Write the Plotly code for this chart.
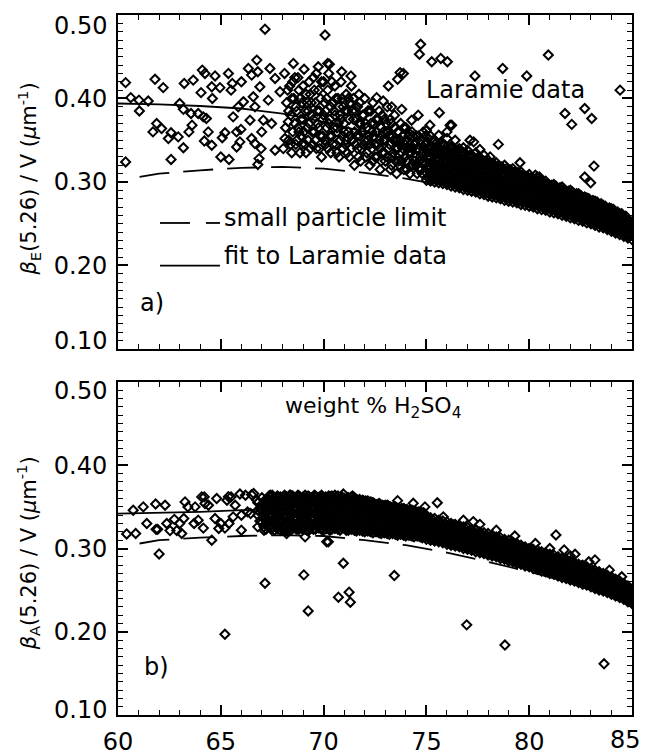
import plotly.graph_objects as go

# ---------------- Panel a) extinction, Laramie data ----------------
a_left = [(60.37,0.419),(60.37,0.324),(60.62,0.401),(61.02,0.398),(61.47,0.397),(61.04,0.385),(61.8,0.423),
(62.2,0.413),(61.88,0.370),(61.7,0.360),(62.12,0.364),(62.58,0.359),(62.45,0.352),(62.93,0.354),(62.58,0.327),
(63.0,0.394),(63.18,0.387),(63.18,0.341),(63.22,0.418),(63.66,0.422),(63.45,0.360),(63.6,0.368),(63.55,0.382),
(63.9,0.382),(64.15,0.378),(64.3,0.376),(64.04,0.407),(64.1,0.434),(64.23,0.430),(64.72,0.427),(64.59,0.400),
(64.56,0.414),(64.96,0.413),(64.39,0.360),(64.2,0.349),(64.56,0.344),(65.0,0.330),(65.07,0.353),(65.2,0.359),
(65.37,0.430),(65.56,0.418),(65.5,0.410),(65.4,0.327),(66.0,0.420),(65.6,0.378),(65.85,0.390),(66.1,0.396),
(65.77,0.360),(65.98,0.363),(65.77,0.342),(65.93,0.348),(66.34,0.436),(66.5,0.428),(66.8,0.432),(66.75,0.446),
(66.42,0.374),(66.66,0.390),(66.58,0.402),(66.9,0.414),(66.5,0.352),(66.66,0.346),(66.96,0.340),(66.86,0.328),
(66.8,0.321),(66.99,0.360),(67.07,0.374),(67.31,0.398),(67.39,0.436),(67.64,0.424),(67.47,0.370),(67.64,0.338),
(67.88,0.408),(68.12,0.352),(68.04,0.340),(68.28,0.372),(67.15,0.483)]

a_core = [(68.1,0.43),(68.2,0.395),(68.3,0.35),(68.35,0.415),(68.4,0.38),(68.45,0.335),(68.5,0.36),(68.55,0.40),
(68.6,0.425),(68.65,0.345),(68.7,0.385),(68.75,0.365),(68.8,0.41),(68.85,0.335),(68.9,0.355),(68.95,0.395),
(69.0,0.375),(69.05,0.435),(69.1,0.345),(69.15,0.405),(69.2,0.365),(69.25,0.385),(69.3,0.42),(69.35,0.34),
(69.4,0.395),(69.45,0.36),(69.5,0.375),(69.55,0.41),(69.6,0.35),(69.65,0.43),(69.7,0.385),(69.75,0.365),
(69.8,0.34),(69.85,0.40),(69.9,0.42),(69.95,0.355),(70.0,0.38),(70.05,0.395),(70.1,0.345),(70.15,0.365),
(70.2,0.41),(70.25,0.43),(70.3,0.375),(70.35,0.335),(70.4,0.355),(70.45,0.395),(70.5,0.385),(70.55,0.415),
(70.6,0.345),(70.65,0.365),(70.7,0.40),(70.75,0.33),(70.8,0.38),(70.85,0.42),(70.9,0.355),(70.95,0.39),
(71.0,0.37),(71.05,0.345),(71.1,0.405),(71.15,0.385),(71.2,0.36),(71.25,0.33),(71.3,0.395),(71.35,0.415),
(71.4,0.35),(71.45,0.375)]

a_core2 = [(68.15,0.365),(68.25,0.41),(68.3,0.385),(68.4,0.345),(68.45,0.40),(68.5,0.42),(68.6,0.37),(68.65,0.39),
(68.7,0.35),(68.75,0.425),(68.8,0.36),(68.85,0.40),(68.9,0.375),(68.95,0.345),(69.0,0.415),(69.05,0.36),
(69.1,0.385),(69.15,0.335),(69.2,0.395),(69.25,0.35),(69.3,0.37),(69.35,0.405),(69.4,0.38),(69.45,0.345),
(69.5,0.425),(69.55,0.36),(69.6,0.395),(69.65,0.34),(69.7,0.37),(69.75,0.41),(69.8,0.385),(69.85,0.355),
(69.9,0.33),(69.95,0.375),(70.0,0.42),(70.05,0.35),(70.1,0.385),(70.15,0.40),(70.2,0.34),(70.25,0.37),
(70.3,0.355),(70.35,0.39),(70.4,0.42),(70.45,0.345),(70.5,0.365),(70.55,0.38),(70.6,0.40),(70.65,0.335),
(70.7,0.37),(70.75,0.39),(70.8,0.35),(70.85,0.375),(70.9,0.40),(70.95,0.34),(71.0,0.36),(71.05,0.385),
(71.1,0.35),(71.15,0.335),(71.2,0.40),(71.25,0.375),(71.3,0.355),(71.35,0.34),(71.4,0.385),(71.45,0.40),
(71.5,0.36),(71.55,0.345),(71.6,0.375),(71.65,0.39),(71.7,0.33),(71.75,0.355),(71.8,0.37),(71.85,0.34),
(71.9,0.36),(71.95,0.38),(72.0,0.35),(72.05,0.37),(72.1,0.335),(72.15,0.385),(72.2,0.355),(72.25,0.345),
(72.3,0.385),(72.35,0.36),(72.4,0.325),(72.45,0.37),(72.5,0.345),(72.55,0.36),(72.6,0.33),(72.65,0.375),
(72.7,0.35),(72.75,0.34),(72.8,0.325),(72.85,0.38),(72.9,0.36),(72.95,0.335),(73.0,0.35),(73.05,0.37),
(73.1,0.33),(73.15,0.36),(73.2,0.345),(73.25,0.375),(73.3,0.32),(73.35,0.355),(73.4,0.335),(73.45,0.365),
(73.5,0.325),(73.55,0.35),(73.6,0.34),(73.65,0.36),(73.7,0.32),(73.75,0.35),(73.8,0.325),(73.85,0.34),
(73.9,0.365),(73.95,0.33),(74.0,0.35),(74.05,0.315),(74.1,0.36),(74.15,0.335),(74.2,0.345),(74.25,0.32),
(74.3,0.34),(74.35,0.355),(74.4,0.325),(74.45,0.345),(74.5,0.32),(74.55,0.34),(74.6,0.355),(74.65,0.315),
(74.7,0.33),(74.75,0.345),(74.8,0.31),(74.85,0.325),(74.9,0.34),(74.95,0.355)]

a_mid = [(71.5,0.32),(71.55,0.385),(71.6,0.355),(71.65,0.34),(71.7,0.37),(71.75,0.395),(71.8,0.325),(71.85,0.36),
(71.9,0.38),(71.95,0.345),(72.0,0.40),(72.05,0.33),(72.1,0.365),(72.15,0.35),(72.2,0.385),(72.25,0.32),
(72.3,0.37),(72.35,0.34),(72.4,0.395),(72.45,0.355),(72.5,0.33),(72.55,0.375),(72.6,0.36),(72.65,0.345),
(72.7,0.385),(72.75,0.315),(72.8,0.365),(72.85,0.335),(72.9,0.35),(72.95,0.375),(73.0,0.325),(73.05,0.36),
(73.1,0.39),(73.15,0.34),(73.2,0.355),(73.25,0.315),(73.3,0.37),(73.35,0.33),(73.4,0.35),(73.45,0.38),
(73.5,0.34),(73.55,0.31),(73.6,0.36),(73.65,0.325),(73.7,0.345),(73.75,0.37),(73.8,0.335),(73.85,0.355),
(73.9,0.315),(73.95,0.345),(74.0,0.365),(74.05,0.325),(74.1,0.34),(74.15,0.355),(74.2,0.31),(74.25,0.335),
(74.3,0.36),(74.35,0.32),(74.4,0.345),(74.45,0.33),(74.5,0.355),(74.55,0.31),(74.6,0.34),(74.65,0.325),
(74.7,0.35),(74.75,0.315),(74.8,0.335),(74.85,0.36),(74.9,0.32),(74.95,0.345)]

a_band = [
(75.0,[0.302,0.311,0.322,0.334,0.347,0.362]),(75.2,[0.301,0.308,0.318,0.330,0.343,0.355]),
(75.4,[0.300,0.309,0.320,0.333,0.350]),(75.6,[0.299,0.306,0.316,0.328,0.341,0.356]),
(75.8,[0.298,0.307,0.318,0.331,0.345]),(76.0,[0.297,0.304,0.314,0.326,0.339,0.352]),
(76.2,[0.295,0.305,0.317,0.330,0.342]),(76.4,[0.294,0.302,0.312,0.324,0.337,0.350]),
(76.6,[0.293,0.303,0.315,0.328,0.340]),(76.8,[0.291,0.300,0.310,0.321,0.334]),
(77.0,[0.290,0.299,0.312,0.325,0.338]),(77.2,[0.289,0.297,0.307,0.318,0.331]),
(77.4,[0.288,0.298,0.309,0.322,0.335]),(77.6,[0.286,0.295,0.305,0.316,0.328]),
(77.8,[0.285,0.296,0.307,0.320,0.332]),(78.0,[0.283,0.292,0.302,0.314,0.326]),
(78.2,[0.282,0.293,0.305,0.317]),(78.4,[0.281,0.290,0.300,0.311,0.323]),
(78.6,[0.280,0.291,0.303,0.315]),(78.8,[0.278,0.288,0.298,0.309,0.320]),
(79.0,[0.277,0.287,0.298,0.311]),(79.2,[0.276,0.285,0.295,0.306,0.316]),
(79.4,[0.275,0.285,0.296,0.308]),(79.6,[0.273,0.282,0.292,0.303,0.312]),
(79.8,[0.272,0.282,0.293,0.305]),(80.0,[0.271,0.280,0.290,0.300,0.309]),
(80.2,[0.270,0.279,0.289,0.299]),(80.4,[0.268,0.277,0.287,0.297,0.306]),
(80.6,[0.267,0.276,0.286,0.296]),(80.8,[0.266,0.274,0.283,0.293,0.301]),
(81.0,[0.264,0.273,0.282,0.292]),(81.2,[0.263,0.271,0.280,0.290,0.297]),
(81.4,[0.262,0.270,0.279,0.288]),(81.6,[0.260,0.268,0.277,0.286,0.294]),
(81.8,[0.259,0.267,0.276,0.284]),(82.0,[0.257,0.265,0.274,0.282,0.290]),
(82.2,[0.256,0.264,0.272,0.281]),(82.4,[0.254,0.262,0.270,0.279,0.286]),
(82.6,[0.253,0.261,0.269,0.277]),(82.8,[0.251,0.259,0.267,0.275,0.281]),
(83.0,[0.250,0.257,0.265,0.273]),(83.2,[0.248,0.256,0.263,0.271,0.277]),
(83.4,[0.246,0.254,0.262,0.269]),(83.6,[0.245,0.252,0.260,0.267,0.272]),
(83.8,[0.243,0.250,0.258,0.265]),(84.0,[0.241,0.248,0.255,0.262,0.268]),
(84.2,[0.239,0.246,0.253,0.260]),(84.4,[0.237,0.244,0.251,0.257,0.262]),
(84.6,[0.235,0.242,0.249,0.255]),(84.8,[0.233,0.240,0.247,0.253]),
(85.0,[0.231,0.238,0.245])]

a_band2 = [
(75.1,[0.305,0.316,0.328,0.340,0.352]),(75.3,[0.304,0.314,0.325,0.337,0.349]),(75.5,[0.303,0.313,0.324,0.336,0.347]),
(75.7,[0.301,0.311,0.322,0.334,0.346]),(75.9,[0.300,0.310,0.321,0.333,0.344]),(76.1,[0.299,0.309,0.320,0.332,0.342]),
(76.3,[0.298,0.308,0.318,0.330,0.340]),(76.5,[0.297,0.307,0.317,0.328,0.338]),(76.7,[0.296,0.305,0.315,0.326,0.336]),
(76.9,[0.294,0.304,0.314,0.324,0.334]),(77.1,[0.293,0.303,0.313,0.323,0.332]),(77.3,[0.292,0.301,0.311,0.321,0.330]),
(77.5,[0.290,0.300,0.310,0.320,0.329]),(77.7,[0.289,0.299,0.309,0.318,0.327]),(77.9,[0.288,0.297,0.307,0.316,0.325]),
(78.1,[0.286,0.296,0.306,0.315,0.323]),(78.3,[0.285,0.295,0.304,0.313,0.321]),(78.5,[0.284,0.293,0.302,0.311,0.319]),
(78.7,[0.283,0.292,0.301,0.310,0.317]),(78.9,[0.281,0.290,0.299,0.308,0.316]),(79.1,[0.280,0.289,0.298,0.306,0.314]),
(79.3,[0.279,0.288,0.296,0.305,0.312]),(79.5,[0.278,0.286,0.295,0.303,0.310]),(79.7,[0.276,0.285,0.293,0.301,0.309]),
(79.9,[0.275,0.284,0.292,0.300,0.307]),(80.1,[0.274,0.282,0.291,0.298,0.305]),(80.3,[0.273,0.281,0.289,0.297,0.303]),
(80.5,[0.271,0.279,0.287,0.295,0.302]),(80.7,[0.270,0.278,0.286,0.294,0.300]),(80.9,[0.269,0.277,0.285,0.292,0.298]),
(81.1,[0.268,0.275,0.283,0.290,0.296]),(81.3,[0.266,0.274,0.282,0.289,0.295]),(81.5,[0.265,0.272,0.280,0.287,0.293]),
(81.7,[0.263,0.271,0.278,0.285,0.291]),(81.9,[0.262,0.269,0.277,0.284,0.289]),(82.1,[0.261,0.268,0.275,0.282,0.288]),
(82.3,[0.259,0.266,0.273,0.280,0.286]),(82.5,[0.258,0.265,0.272,0.279,0.284]),(82.7,[0.256,0.263,0.270,0.277,0.282]),
(82.9,[0.255,0.262,0.268,0.275,0.280]),(83.1,[0.253,0.260,0.267,0.273,0.278]),(83.3,[0.252,0.258,0.265,0.271,0.276]),
(83.5,[0.250,0.257,0.263,0.269,0.274]),(83.7,[0.248,0.255,0.261,0.267,0.271]),(83.9,[0.247,0.253,0.259,0.265,0.269]),
(84.1,[0.245,0.251,0.257,0.263,0.267]),(84.3,[0.243,0.249,0.255,0.260,0.264]),(84.5,[0.241,0.247,0.253,0.258,0.262]),
(84.7,[0.239,0.245,0.250,0.255,0.259]),(84.9,[0.237,0.243,0.248,0.253])]

a_band3 = [
(75.05,[0.306,0.316,0.328,0.340]),(75.25,[0.305,0.313,0.324,0.336]),(75.45,[0.304,0.314,0.326,0.339]),
(75.65,[0.303,0.311,0.322,0.335]),(75.85,[0.302,0.312,0.324,0.337]),(76.05,[0.300,0.309,0.320,0.332]),
(76.25,[0.299,0.310,0.322,0.335]),(76.45,[0.298,0.307,0.318,0.330]),(76.65,[0.297,0.308,0.320,0.333]),
(76.85,[0.295,0.305,0.316,0.327]),(77.05,[0.294,0.305,0.318,0.330]),(77.25,[0.293,0.302,0.313,0.324]),
(77.45,[0.292,0.303,0.315,0.327]),(77.65,[0.290,0.300,0.311,0.322]),(77.85,[0.289,0.301,0.313,0.325]),
(78.05,[0.288,0.297,0.308,0.320]),(78.25,[0.287,0.298,0.310,0.321]),(78.45,[0.285,0.295,0.305,0.316]),
(78.65,[0.284,0.296,0.307,0.318]),(78.85,[0.283,0.293,0.303,0.313]),(79.05,[0.282,0.292,0.303,0.314]),
(79.25,[0.280,0.290,0.300,0.310]),(79.45,[0.279,0.290,0.301,0.311]),(79.65,[0.278,0.287,0.297,0.307]),
(79.85,[0.277,0.287,0.298,0.306]),(80.05,[0.275,0.285,0.295,0.304]),(80.25,[0.274,0.284,0.294,0.302]),
(80.45,[0.273,0.282,0.292,0.300]),(80.65,[0.271,0.281,0.291,0.299]),(80.85,[0.270,0.279,0.288,0.296]),
(81.05,[0.269,0.277,0.287,0.295]),(81.25,[0.267,0.276,0.285,0.293]),(81.45,[0.266,0.274,0.283,0.291]),
(81.65,[0.264,0.272,0.281,0.289]),(81.85,[0.263,0.271,0.280,0.287]),(82.05,[0.261,0.269,0.278,0.285]),
(82.25,[0.260,0.268,0.276,0.284]),(82.45,[0.258,0.266,0.274,0.282]),(82.65,[0.257,0.265,0.273,0.280]),
(82.85,[0.255,0.263,0.271,0.278]),(83.05,[0.253,0.261,0.269,0.276]),(83.25,[0.252,0.259,0.267,0.274]),
(83.45,[0.250,0.258,0.265,0.272]),(83.65,[0.248,0.256,0.263,0.269]),(83.85,[0.246,0.254,0.261,0.267]),
(84.05,[0.244,0.252,0.259,0.265]),(84.25,[0.242,0.250,0.256,0.262]),(84.45,[0.240,0.248,0.254,0.259]),
(84.65,[0.238,0.245,0.252,0.257]),(84.85,[0.236,0.243,0.250,0.254])]

a_outliers = [(74.72,0.465),(74.66,0.453),(75.26,0.444),(75.7,0.448),(76.02,0.444),(77.36,0.427),(78.71,0.436),
(79.88,0.427),(80.93,0.452),(84.42,0.410),(81.74,0.382),(82.07,0.369),(82.7,0.388),(83.04,0.376),(75.63,0.383),
(78.5,0.345),(83.15,0.319),(82.7,0.306),(82.99,0.299),(83.77,0.265),(73.72,0.431),(73.15,0.415),(73.6,0.423),
(73.88,0.430),(76.23,0.368),(77.12,0.350),(77.3,0.348),(76.8,0.341),(76.0,0.360),(77.6,0.339),(78.1,0.330),
(79.55,0.323),(79.07,0.314),(80.3,0.308),(80.5,0.306),(80.85,0.295),(81.34,0.292),(81.82,0.286),(84.42,0.246),
(72.58,0.401),(72.9,0.397),(73.31,0.390),(73.8,0.387),(74.6,0.380),(75.17,0.368),(74.28,0.374),(76.15,0.368),
(71.72,0.405),(68.53,0.442),(69.74,0.438),(70.28,0.441),(70.88,0.432),(71.33,0.427),(70.07,0.476),(70.2,0.442)]

# ---------------- Panel b) absorption ----------------
b_left = [(60.42,0.3175),(60.86,0.318),(60.74,0.346),(61.23,0.350),(61.4,0.330),(61.83,0.3535),(61.93,0.323),
(61.85,0.323),(62.0,0.2935),(62.29,0.352),(62.37,0.330),(62.53,0.3215),(62.74,0.335),(62.86,0.3215),(63.1,0.318),
(63.0,0.330),(63.26,0.356),(63.4,0.350),(63.2,0.336),(63.7,0.330),(63.75,0.350),(63.9,0.334),(64.07,0.362),
(64.23,0.354),(64.15,0.3245),(64.56,0.310),(64.8,0.360),(64.72,0.336),(65.0,0.330),(65.2,0.3245),(65.3,0.358),
(65.5,0.362),(65.7,0.352),(65.93,0.3655),(66.0,0.322),(66.0,0.340),(66.45,0.342),(66.5,0.3645),(66.75,0.358),
(66.95,0.348),(67.1,0.322),(65.2,0.197),(67.15,0.2583),(64.2,0.362),(64.4,0.352),(64.9,0.324),(65.37,0.3623),
(65.4,0.330),(65.6,0.338),(66.2,0.364),(66.3,0.344),(66.6,0.366),(66.8,0.346)]

b_block = [
(66.8,[0.326,0.340,0.355]),(67.0,[0.331,0.347,0.361]),(67.2,[0.323,0.336,0.352]),
(67.4,[0.329,0.343,0.358,0.364]),(67.6,[0.322,0.334,0.349,0.361]),(67.8,[0.327,0.339,0.353,0.362]),
(68.0,[0.323,0.333,0.345,0.357]),(68.2,[0.328,0.340,0.351,0.362]),(68.4,[0.322,0.334,0.346,0.358,0.364]),
(68.6,[0.327,0.338,0.350,0.361]),(68.8,[0.323,0.332,0.344,0.355,0.363]),(69.0,[0.328,0.340,0.352,0.362]),
(69.2,[0.322,0.334,0.346,0.357]),(69.4,[0.327,0.338,0.350,0.361]),(69.6,[0.323,0.332,0.343,0.355,0.363]),
(69.8,[0.328,0.340,0.352,0.362]),(70.0,[0.322,0.334,0.346,0.358]),(70.2,[0.327,0.339,0.351,0.361]),
(70.4,[0.323,0.333,0.344,0.355,0.363]),(70.6,[0.328,0.340,0.352,0.362]),(70.8,[0.322,0.334,0.346,0.357]),
(71.0,[0.327,0.338,0.350,0.360]),(71.2,[0.322,0.332,0.343,0.354,0.361]),(71.4,[0.326,0.338,0.349,0.359]),
(71.6,[0.321,0.331,0.342,0.353,0.359]),(71.8,[0.325,0.336,0.347,0.357]),(72.0,[0.320,0.330,0.341,0.352]),
(72.2,[0.324,0.335,0.346,0.356]),(72.4,[0.319,0.329,0.340,0.350,0.355]),(72.6,[0.323,0.334,0.344,0.353]),
(72.8,[0.318,0.328,0.338,0.349]),(73.0,[0.321,0.332,0.343,0.352]),(73.2,[0.317,0.327,0.337,0.347]),
(73.4,[0.320,0.330,0.341,0.350]),(73.6,[0.316,0.325,0.335,0.345]),(73.8,[0.319,0.329,0.339,0.348]),
(74.0,[0.315,0.324,0.334,0.344]),(74.2,[0.318,0.327,0.337,0.346]),(74.4,[0.314,0.323,0.332,0.342]),
(74.6,[0.316,0.326,0.336,0.344]),(74.8,[0.313,0.321,0.331,0.341])]

b_block2 = [
(66.9,[0.333,0.348]),(67.1,[0.326,0.340,0.354]),(67.3,[0.333,0.347,0.360]),(67.5,[0.326,0.340,0.354,0.364]),
(67.7,[0.331,0.344,0.357]),(67.9,[0.322,0.336,0.349,0.362]),(68.1,[0.328,0.340,0.353,0.364]),
(68.3,[0.323,0.335,0.347,0.358]),(68.5,[0.329,0.341,0.353,0.363]),(68.7,[0.323,0.334,0.346,0.357]),
(68.9,[0.328,0.339,0.350,0.360]),(69.1,[0.323,0.334,0.345,0.356,0.364]),(69.3,[0.329,0.341,0.353,0.362]),
(69.5,[0.323,0.334,0.346,0.357]),(69.7,[0.328,0.339,0.350,0.360]),(69.9,[0.323,0.334,0.345,0.356,0.364]),
(70.1,[0.328,0.340,0.352,0.362]),(70.3,[0.322,0.333,0.345,0.357]),(70.5,[0.328,0.339,0.350,0.360]),
(70.7,[0.323,0.334,0.345,0.356,0.363]),(70.9,[0.328,0.340,0.352,0.362]),(71.1,[0.322,0.333,0.344,0.356]),
(71.3,[0.327,0.338,0.349,0.359]),(71.5,[0.322,0.332,0.343,0.354,0.361]),(71.7,[0.326,0.337,0.348,0.357]),
(71.9,[0.321,0.331,0.341,0.352,0.358]),(72.1,[0.325,0.335,0.346,0.355]),(72.3,[0.320,0.330,0.340,0.351,0.356]),
(72.5,[0.324,0.334,0.345,0.353]),(72.7,[0.319,0.329,0.339,0.349,0.354]),(72.9,[0.323,0.333,0.343,0.351]),
(73.1,[0.318,0.327,0.337,0.347,0.352]),(73.3,[0.322,0.331,0.341,0.349]),(73.5,[0.317,0.326,0.336,0.345,0.350]),
(73.7,[0.320,0.330,0.339,0.347]),(73.9,[0.316,0.325,0.334,0.343,0.348]),(74.1,[0.319,0.328,0.337,0.345]),
(74.3,[0.315,0.323,0.332,0.341,0.346]),(74.5,[0.318,0.327,0.336,0.343]),(74.7,[0.314,0.322,0.331,0.339,0.344]),
(74.9,[0.316,0.325,0.334,0.342])]

b_block3 = [
(67.05,[0.337,0.352]),(67.25,[0.330,0.344,0.357]),(67.45,[0.323,0.337,0.350]),(67.65,[0.328,0.342,0.355]),
(67.85,[0.332,0.345,0.358]),(68.05,[0.326,0.339,0.351,0.362]),(68.25,[0.322,0.334,0.346,0.357]),
(68.45,[0.328,0.340,0.352,0.361]),(68.65,[0.324,0.336,0.348,0.359]),(68.85,[0.329,0.341,0.353,0.362]),
(69.05,[0.325,0.337,0.349,0.359]),(69.25,[0.321,0.331,0.343,0.354,0.363]),(69.45,[0.326,0.337,0.349,0.359]),
(69.65,[0.329,0.341,0.352,0.362]),(69.85,[0.324,0.336,0.347,0.358]),(70.05,[0.327,0.339,0.351,0.361]),
(70.25,[0.324,0.335,0.346,0.356,0.363]),(70.45,[0.328,0.340,0.352,0.361]),(70.65,[0.325,0.336,0.347,0.357]),
(70.85,[0.329,0.341,0.352,0.362]),(71.05,[0.324,0.335,0.346,0.357]),(71.25,[0.328,0.339,0.350,0.360]),
(71.45,[0.323,0.334,0.345,0.355]),(71.65,[0.327,0.338,0.349,0.358]),(71.85,[0.322,0.333,0.344,0.354]),
(72.05,[0.326,0.337,0.347,0.357]),(72.25,[0.321,0.332,0.342,0.352]),(72.45,[0.325,0.336,0.346,0.354]),
(72.65,[0.320,0.331,0.341,0.350]),(72.85,[0.324,0.334,0.344,0.352]),(73.05,[0.319,0.329,0.339,0.348]),
(73.25,[0.323,0.333,0.343,0.350]),(73.45,[0.318,0.328,0.338,0.347]),(73.65,[0.321,0.331,0.341,0.348]),
(73.85,[0.317,0.327,0.336,0.345]),(74.05,[0.320,0.330,0.339,0.347]),(74.25,[0.316,0.325,0.334,0.343]),
(74.45,[0.319,0.328,0.338,0.345]),(74.65,[0.315,0.324,0.333,0.341]),(74.85,[0.317,0.327,0.336,0.343])]

b_block4 = [
(67.15,[0.329,0.343,0.358]),(67.35,[0.326,0.340,0.353,0.363]),(67.55,[0.330,0.345,0.358]),
(67.75,[0.324,0.337,0.350,0.363]),(67.95,[0.328,0.342,0.355]),(68.15,[0.322,0.336,0.348,0.360]),
(68.35,[0.329,0.341,0.353,0.364]),(68.55,[0.325,0.337,0.349,0.359]),(68.75,[0.330,0.342,0.354,0.364]),
(68.95,[0.324,0.335,0.347,0.358]),(69.15,[0.329,0.341,0.352,0.361]),(69.35,[0.324,0.336,0.347,0.358]),
(69.55,[0.330,0.342,0.354,0.364]),(69.75,[0.325,0.336,0.348,0.358]),(69.95,[0.330,0.341,0.352,0.362]),
(70.15,[0.324,0.335,0.347,0.358]),(70.35,[0.329,0.341,0.352,0.362]),(70.55,[0.324,0.335,0.346,0.357,0.364]),
(70.75,[0.330,0.342,0.353,0.361]),(70.95,[0.325,0.336,0.347,0.358]),(71.15,[0.329,0.341,0.352,0.361]),
(71.35,[0.323,0.334,0.345,0.355,0.362]),(71.55,[0.328,0.339,0.350,0.359]),(71.75,[0.322,0.333,0.343,0.353,0.359]),
(71.95,[0.327,0.338,0.348,0.357]),(72.15,[0.321,0.332,0.342,0.352,0.357]),(72.35,[0.326,0.336,0.346,0.355]),
(72.55,[0.320,0.330,0.341,0.351]),(72.75,[0.325,0.335,0.345,0.353]),(72.95,[0.319,0.329,0.339,0.349]),
(73.15,[0.323,0.333,0.343,0.351]),(73.35,[0.318,0.327,0.337,0.347]),(73.55,[0.322,0.332,0.341,0.349]),
(73.75,[0.317,0.326,0.335,0.345]),(73.95,[0.321,0.330,0.339,0.347]),(74.15,[0.316,0.325,0.334,0.343]),
(74.35,[0.319,0.328,0.337,0.345]),(74.55,[0.315,0.323,0.332,0.341]),(74.75,[0.318,0.327,0.336,0.343]),
(74.95,[0.314,0.322,0.331,0.340])]

b_band = [
(75.0,[0.311,0.320,0.330,0.339]),(75.2,[0.310,0.318,0.327,0.337]),(75.4,[0.309,0.317,0.326,0.336]),
(75.6,[0.308,0.316,0.325,0.334]),(75.8,[0.307,0.315,0.323,0.333]),(76.0,[0.305,0.313,0.322,0.332]),
(76.2,[0.304,0.312,0.321,0.330]),(76.4,[0.303,0.311,0.319,0.329]),(76.6,[0.302,0.310,0.318,0.327]),
(76.8,[0.300,0.308,0.316,0.326]),(77.0,[0.299,0.307,0.315,0.325]),(77.2,[0.298,0.306,0.314,0.323]),
(77.4,[0.296,0.304,0.312,0.322]),(77.6,[0.295,0.303,0.311,0.320]),(77.8,[0.294,0.301,0.309,0.319]),
(78.0,[0.292,0.300,0.308,0.318]),(78.2,[0.291,0.299,0.307,0.316]),(78.4,[0.290,0.297,0.305,0.314]),
(78.6,[0.288,0.296,0.304,0.313]),(78.8,[0.287,0.294,0.302,0.311]),(79.0,[0.285,0.293,0.301,0.310]),
(79.2,[0.284,0.291,0.299,0.308]),(79.4,[0.282,0.290,0.297,0.306]),(79.6,[0.281,0.288,0.296,0.304]),
(79.8,[0.279,0.287,0.294,0.302]),(80.0,[0.278,0.285,0.292,0.300]),(80.2,[0.276,0.284,0.291,0.299]),
(80.4,[0.275,0.282,0.289,0.298]),(80.6,[0.273,0.281,0.288,0.296]),(80.8,[0.272,0.279,0.286,0.295]),
(81.0,[0.270,0.278,0.285,0.293]),(81.2,[0.269,0.276,0.283,0.292]),(81.4,[0.267,0.274,0.282,0.290]),
(81.6,[0.265,0.273,0.280,0.288]),(81.8,[0.264,0.271,0.278,0.287]),(82.0,[0.262,0.269,0.277,0.285]),
(82.2,[0.261,0.268,0.275,0.283]),(82.4,[0.259,0.266,0.273,0.281]),(82.6,[0.257,0.264,0.271,0.280]),
(82.8,[0.256,0.263,0.270,0.278]),(83.0,[0.254,0.261,0.268,0.276]),(83.2,[0.252,0.259,0.266,0.274]),
(83.4,[0.250,0.257,0.264,0.272]),(83.6,[0.249,0.255,0.262,0.270]),(83.8,[0.247,0.253,0.260,0.268]),
(84.0,[0.245,0.251,0.258,0.266]),(84.2,[0.243,0.249,0.256,0.263]),(84.4,[0.241,0.247,0.254,0.261]),
(84.6,[0.239,0.245,0.252,0.258]),(84.8,[0.236,0.243,0.249,0.255]),(85.0,[0.234,0.240,0.246,0.251])]

b_band2 = [
(75.1,[0.315,0.324,0.334]),(75.3,[0.314,0.322,0.331]),(75.5,[0.313,0.321,0.330]),(75.7,[0.312,0.320,0.329]),
(75.9,[0.310,0.319,0.327]),(76.1,[0.309,0.317,0.326]),(76.3,[0.308,0.316,0.325]),(76.5,[0.307,0.315,0.323]),
(76.7,[0.306,0.314,0.322]),(76.9,[0.304,0.312,0.320]),(77.1,[0.303,0.311,0.319]),(77.3,[0.302,0.310,0.318]),
(77.5,[0.300,0.308,0.316]),(77.7,[0.299,0.307,0.315]),(77.9,[0.297,0.305,0.313]),(78.1,[0.296,0.304,0.312]),
(78.3,[0.295,0.303,0.311]),(78.5,[0.293,0.301,0.309]),(78.7,[0.292,0.300,0.308]),(78.9,[0.290,0.298,0.306]),
(79.1,[0.289,0.297,0.305]),(79.3,[0.287,0.295,0.303]),(79.5,[0.286,0.293,0.301]),(79.7,[0.284,0.292,0.299]),
(79.9,[0.283,0.290,0.297]),(80.1,[0.281,0.288,0.296]),(80.3,[0.280,0.287,0.294]),(80.5,[0.278,0.285,0.293]),
(80.7,[0.277,0.284,0.291]),(80.9,[0.275,0.282,0.290]),(81.1,[0.274,0.281,0.288]),(81.3,[0.272,0.279,0.287]),
(81.5,[0.270,0.277,0.285]),(81.7,[0.269,0.276,0.283]),(81.9,[0.267,0.274,0.282]),(82.1,[0.265,0.272,0.280]),
(82.3,[0.264,0.271,0.278]),(82.5,[0.262,0.269,0.276]),(82.7,[0.260,0.267,0.275]),(82.9,[0.259,0.266,0.273]),
(83.1,[0.257,0.264,0.271]),(83.3,[0.255,0.262,0.269]),(83.5,[0.253,0.260,0.267]),(83.7,[0.252,0.258,0.265]),
(83.9,[0.250,0.256,0.263]),(84.1,[0.248,0.254,0.261]),(84.3,[0.246,0.252,0.259]),(84.5,[0.244,0.250,0.256]),
(84.7,[0.242,0.248,0.253]),(84.9,[0.239,0.245,0.250])]

b_band3 = [
(75.05,[0.316,0.325,0.335]),(75.25,[0.314,0.323,0.332]),(75.45,[0.313,0.322,0.331]),(75.65,[0.311,0.320,0.330]),
(75.85,[0.310,0.318,0.328]),(76.05,[0.309,0.317,0.327]),(76.25,[0.308,0.316,0.325]),(76.45,[0.306,0.315,0.324]),
(76.65,[0.305,0.313,0.322]),(76.85,[0.304,0.312,0.321]),(77.05,[0.302,0.310,0.320]),(77.25,[0.301,0.309,0.318]),
(77.45,[0.300,0.308,0.317]),(77.65,[0.298,0.306,0.315]),(77.85,[0.297,0.305,0.314]),(78.05,[0.296,0.304,0.313]),
(78.25,[0.294,0.302,0.311]),(78.45,[0.293,0.301,0.310]),(78.65,[0.292,0.299,0.308]),(78.85,[0.290,0.298,0.307]),
(79.05,[0.289,0.296,0.305]),(79.25,[0.287,0.295,0.303]),(79.45,[0.286,0.293,0.302]),(79.65,[0.284,0.292,0.300]),
(79.85,[0.283,0.290,0.298]),(80.05,[0.281,0.289,0.297]),(80.25,[0.280,0.287,0.295]),(80.45,[0.278,0.286,0.294]),
(80.65,[0.277,0.284,0.292]),(80.85,[0.275,0.283,0.290]),(81.05,[0.274,0.281,0.289]),(81.25,[0.272,0.279,0.287]),
(81.45,[0.271,0.278,0.285]),(81.65,[0.269,0.276,0.284]),(81.85,[0.267,0.274,0.282]),(82.05,[0.266,0.273,0.280]),
(82.25,[0.264,0.271,0.279]),(82.45,[0.262,0.269,0.277]),(82.65,[0.261,0.268,0.275]),(82.85,[0.259,0.266,0.273]),
(83.05,[0.257,0.264,0.272]),(83.25,[0.256,0.262,0.270]),(83.45,[0.254,0.260,0.268]),(83.65,[0.252,0.259,0.266]),
(83.85,[0.250,0.257,0.264]),(84.05,[0.248,0.255,0.262]),(84.25,[0.246,0.253,0.260]),(84.45,[0.244,0.251,0.257]),
(84.65,[0.242,0.249,0.254]),(84.85,[0.240,0.246,0.252])]

b_band4 = [
(75.15,[0.312,0.321,0.331]),(75.35,[0.311,0.320,0.329]),(75.55,[0.310,0.319,0.328]),(75.75,[0.309,0.317,0.326]),
(75.95,[0.308,0.316,0.325]),(76.15,[0.306,0.315,0.323]),(76.35,[0.305,0.313,0.322]),(76.55,[0.304,0.312,0.321]),
(76.75,[0.303,0.311,0.319]),(76.95,[0.301,0.309,0.318]),(77.15,[0.300,0.308,0.317]),(77.35,[0.299,0.307,0.315]),
(77.55,[0.297,0.305,0.314]),(77.75,[0.296,0.304,0.312]),(77.95,[0.295,0.303,0.311]),(78.15,[0.293,0.301,0.310]),
(78.35,[0.292,0.300,0.308]),(78.55,[0.291,0.298,0.307]),(78.75,[0.289,0.297,0.305]),(78.95,[0.288,0.295,0.304]),
(79.15,[0.286,0.294,0.302]),(79.35,[0.285,0.292,0.300]),(79.55,[0.283,0.291,0.299]),(79.75,[0.282,0.289,0.297]),
(79.95,[0.280,0.288,0.296]),(80.15,[0.279,0.286,0.294]),(80.35,[0.277,0.285,0.292]),(80.55,[0.276,0.283,0.291]),
(80.75,[0.274,0.282,0.289]),(80.95,[0.273,0.280,0.288]),(81.15,[0.271,0.279,0.286]),(81.35,[0.270,0.277,0.285]),
(81.55,[0.268,0.275,0.283]),(81.75,[0.266,0.274,0.281]),(81.95,[0.265,0.272,0.280]),(82.15,[0.263,0.270,0.278]),
(82.35,[0.262,0.269,0.276]),(82.55,[0.260,0.267,0.275]),(82.75,[0.258,0.265,0.273]),(82.95,[0.257,0.264,0.271]),
(83.15,[0.255,0.262,0.269]),(83.35,[0.253,0.260,0.267]),(83.55,[0.251,0.258,0.266]),(83.75,[0.250,0.256,0.264]),
(83.95,[0.248,0.254,0.262]),(84.15,[0.246,0.252,0.259]),(84.35,[0.244,0.250,0.257]),(84.55,[0.242,0.248,0.254]),
(84.75,[0.240,0.246,0.252]),(84.95,[0.237,0.243,0.249])]

b_outliers = [(69.04,0.2683),(69.25,0.225),(70.96,0.2823),(70.23,0.308),(70.72,0.2415),(71.24,0.2475),
(71.3,0.2355),(73.44,0.2675),(73.6,0.3575),(74.36,0.3543),(74.93,0.350),(75.53,0.355),(70.96,0.3655),
(71.41,0.363),(77.28,0.3323),(76.96,0.2083),(78.82,0.184),(83.64,0.1615),(81.3,0.3163),(81.7,0.2983),
(82.23,0.293),(82.55,0.279),(83.2,0.2863),(76.31,0.3283),(75.82,0.338),(69.1,0.314),(70.15,0.308),(68.2,0.318),
(76.8,0.334),(77.6,0.329),(78.4,0.322),(79.3,0.315),(80.3,0.306),(81.0,0.300),(82.0,0.291),(82.9,0.284),
(83.9,0.274),(84.5,0.266),(84.1,0.258),(84.4,0.253)]

# ---------------- Curves ----------------
fit_a_x = [60, 62, 64, 66, 68, 70, 72, 74, 76, 78, 80, 82, 84, 85]
fit_a_y = [0.394, 0.393, 0.391, 0.388, 0.382, 0.372, 0.360, 0.345, 0.328, 0.309, 0.290, 0.272, 0.251, 0.240]
small_a_x = [61.05, 62, 64, 66, 68, 70, 72, 74, 76, 78, 80, 82, 84, 85]
small_a_y = [0.306, 0.310, 0.314, 0.317, 0.318, 0.316, 0.311, 0.304, 0.295, 0.284, 0.272, 0.259, 0.244, 0.235]
fit_b_x = [60, 62, 64, 66, 68, 70, 72, 74, 76, 78, 80, 82, 84, 85]
fit_b_y = [0.342, 0.343, 0.344, 0.346, 0.347, 0.347, 0.344, 0.335, 0.320, 0.305, 0.289, 0.274, 0.254, 0.243]
small_b_x = [61.05, 62, 64, 66, 68, 70, 72, 74, 76, 78, 80, 82, 84, 85]
small_b_y = [0.306, 0.310, 0.313, 0.315, 0.316, 0.315, 0.310, 0.304, 0.295, 0.284, 0.272, 0.259, 0.244, 0.235]

# ticks: inner labels come from the axes; the end labels are nudged inward like the reference
x_ticks = [60, 65, 70, 75, 80, 85]
x_inner = [60, 65, 70, 75, 80]
y_ticks = [0.10, 0.20, 0.30, 0.40, 0.50]
y_inner = [0.20, 0.30, 0.40]

def expand(points=None, bands=None):
    xs, ys = [], []
    for p in (points or []):
        xs.append(p[0]); ys.append(p[1])
    for bx, bys in (bands or []):
        for v in bys:
            xs.append(bx); ys.append(v)
    return xs, ys

FONT = "DejaVu Sans"
mk = dict(symbol="diamond-open", size=7, color="black", line=dict(width=2, color="black"))

fig = go.Figure()
ax_x, ax_y = expand(a_left + a_core + a_core2 + a_mid + a_outliers, a_band + a_band2 + a_band3)
bx_x, bx_y = expand(b_left + b_outliers,
                    b_block + b_block2 + b_block3 + b_block4 + b_band + b_band2 + b_band3 + b_band4)

fig.add_trace(go.Scatter(x=fit_a_x, y=fit_a_y, mode="lines", line=dict(color="black", width=1.8),
                         xaxis="x", yaxis="y", showlegend=False))
fig.add_trace(go.Scatter(x=small_a_x, y=small_a_y, mode="lines",
                         line=dict(color="black", width=1.8, dash="30px,14px"),
                         xaxis="x", yaxis="y", showlegend=False))
fig.add_trace(go.Scatter(x=ax_x, y=ax_y, mode="markers", marker=mk, xaxis="x", yaxis="y", showlegend=False))

fig.add_trace(go.Scatter(x=fit_b_x, y=fit_b_y, mode="lines", line=dict(color="black", width=1.8),
                         xaxis="x2", yaxis="y2", showlegend=False))
fig.add_trace(go.Scatter(x=small_b_x, y=small_b_y, mode="lines",
                         line=dict(color="black", width=1.8, dash="30px,14px"),
                         xaxis="x2", yaxis="y2", showlegend=False))
fig.add_trace(go.Scatter(x=bx_x, y=bx_y, mode="markers", marker=mk, xaxis="x2", yaxis="y2", showlegend=False))

axis_common = dict(showline=True, linewidth=2, linecolor="black", mirror="allticks", ticks="inside",
                   tickwidth=1.5, tickcolor="black", showgrid=False, zeroline=False, automargin=False,
                   ticklabeloverflow="allow",
                   tickfont=dict(family=FONT, size=24, color="black"))

top_dom = [0.5229, 1.0]
bot_dom = [0.0, 0.4757]
minor_x = dict(dtick=1, ticklen=5, ticks="inside", tickwidth=1.2, tickcolor="black")
minor_y = dict(dtick=0.01, ticklen=5, ticks="inside", tickwidth=1.2, tickcolor="black")

# the page body adds an 8px offset; margins compensate so the plot sits where the reference has it
fig.update_layout(
    width=648, height=755, autosize=False,
    margin=dict(l=110, r=24, t=7, b=48, autoexpand=False),
    plot_bgcolor="white", paper_bgcolor="white",
    xaxis=dict(range=[60, 85], domain=[0, 1], anchor="y", tickvals=x_ticks, showticklabels=False,
               ticklen=10, minor=minor_x, **axis_common),
    yaxis=dict(range=[0.1, 0.5], domain=top_dom, anchor="x", tickvals=y_inner, tickformat=".2f",
               ticklen=10, minor=minor_y, ticklabelstandoff=4, **axis_common),
    xaxis2=dict(range=[60, 85], domain=[0, 1], anchor="y2", tickvals=x_inner,
                ticklen=10, minor=minor_x, ticklabelstandoff=4, **axis_common),
    yaxis2=dict(range=[0.1, 0.5], domain=bot_dom, anchor="x2", tickvals=y_inner, tickformat=".2f",
                ticklen=10, minor=minor_y, ticklabelstandoff=4, **axis_common),
)

tf = dict(family=FONT, size=24, color="black")

# end tick labels (placed at their axis values, nudged inside the frame)
for yref, top_shift, bot_shift in (("y", -11, 8), ("y2", -9, 5)):
    for val, shift in ((y_ticks[-1], top_shift), (y_ticks[0], bot_shift)):
        fig.add_annotation(xref="paper", x=0, yref=yref, y=val, text=f"{val:.2f}", showarrow=False,
                           xanchor="right", yanchor="middle", xshift=-9, yshift=shift, font=tf)
fig.add_annotation(xref="x2", x=x_ticks[-1], yref="paper", y=0, text=f"{x_ticks[-1]}", showarrow=False,
                   xanchor="center", yanchor="top", xshift=-7, yshift=-9, font=tf)

ann = [
    dict(text="<i>β</i><sub>E</sub>(5.26) / V (<i>μ</i>m<sup>-1</sup>)", x=-0.175, y=0.765, textangle=-90, size=21),
    dict(text="<i>β</i><sub>A</sub>(5.26) / V (<i>μ</i>m<sup>-1</sup>)", x=-0.175, y=0.231, textangle=-90, size=21),
    dict(text="Laramie data", x=0.753, y=0.893),
    dict(text="small particle limit", x=0.2023, y=0.710, xanchor="left"),
    dict(text="fit to Laramie data", x=0.2023, y=0.6557, xanchor="left"),
    dict(text="a)", x=0.0389, y=0.5886, xanchor="left"),
    dict(text="b)", x=0.0467, y=0.0686, xanchor="left"),
    dict(text="weight % H<sub>2</sub>SO<sub>4</sub>", x=0.321, y=0.4386, xanchor="left", size=22),
]
for a in ann:
    f = dict(tf)
    if "size" in a:
        f["size"] = a.pop("size")
    a.setdefault("xanchor", "center")
    fig.add_annotation(xref="paper", yref="paper", showarrow=False, yanchor="middle", font=f, **a)

# legend line samples
shp = [
    dict(x0=0.0817, x1=0.1401, y0=0.7029, y1=0.7029),
    dict(x0=0.1712, x1=0.1984, y0=0.7029, y1=0.7029),
    dict(x0=0.0817, x1=0.1984, y0=0.6421, y1=0.6421),
]
for s in shp:
    fig.add_shape(type="line", xref="paper", yref="paper", x0=s["x0"], x1=s["x1"], y0=s["y0"], y1=s["y1"],
                  line=dict(color="black", width=1.8))

fig.write_html("out.html")
